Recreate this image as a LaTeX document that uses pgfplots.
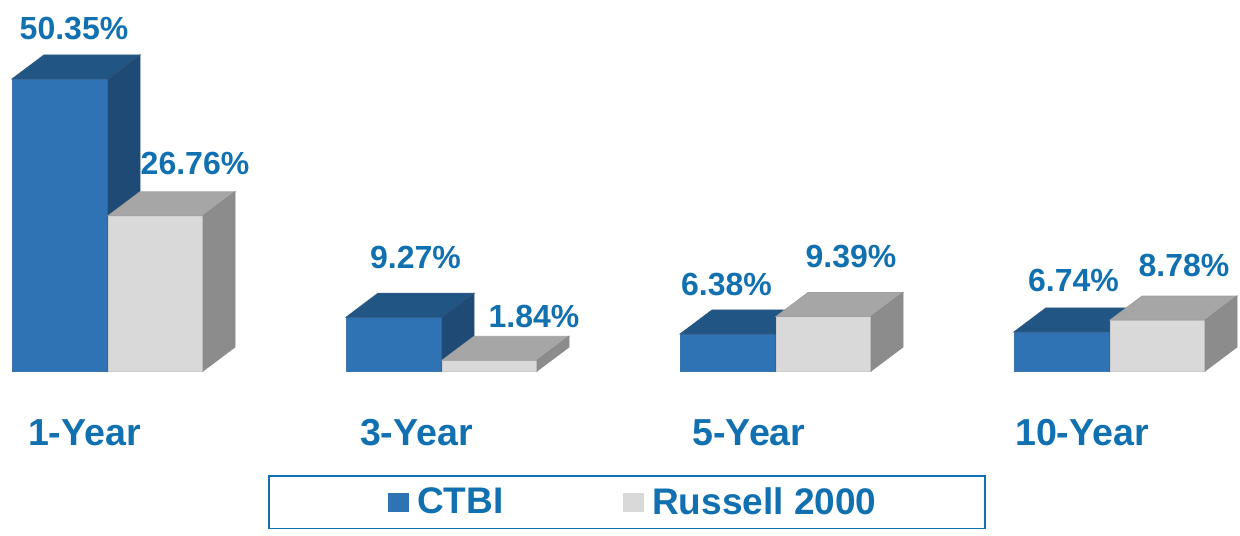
\documentclass[border=0pt]{standalone}
\usepackage{fontspec}
\setmainfont{Liberation Sans}
\usepackage{pgfplots}
\pgfplotsset{compat=1.18}

\definecolor{labelblue}{HTML}{1170B0}
\definecolor{ctbifront}{HTML}{3073B5}
\definecolor{ctbitop}{HTML}{215583}
\definecolor{ctbiside}{HTML}{1E4A75}
\definecolor{russfront}{HTML}{D9D9D9}
\definecolor{russtop}{HTML}{A6A6A6}
\definecolor{russside}{HTML}{8C8C8C}

% one unit of x is one pixel of the reference, y is in percent (5.8 px per %)
\newcommand{\threedbar}[6]{%
  \pgfmathsetmacro\xa{#1+32}%
  \pgfmathsetmacro\xb{#2+32}%
  \pgfmathsetmacro\vb{#3+4.14}%
  \pgfmathsetmacro\zb{4.14}%
  \edef\tmp{%
    \noexpand\addplot[forget plot,fill=#4,draw=#4!85!gray,line width=0.4pt] coordinates {(#1,0) (#2,0) (#2,#3) (#1,#3)} --cycle;
    \noexpand\addplot[forget plot,fill=#5,draw=#5!85!gray,line width=0.4pt] coordinates {(#1,#3) (#2,#3) (\xb,\vb) (\xa,\vb)} --cycle;
    \noexpand\addplot[forget plot,fill=#6,draw=#6!85!gray,line width=0.4pt] coordinates {(#2,0) (\xb,\zb) (\xb,\vb) (#2,#3)} --cycle;
  }\tmp
}
\newcommand{\vallabel}[3]{\node[text=labelblue,font=\fontsize{16}{16}\selectfont\bfseries,anchor=center] at (axis cs:#1,#2) {#3};}

\begin{document}
\begin{tikzpicture}
\begin{axis}[
    scale only axis,
    width=620pt,
    height=185.5pt,
    at={(0,0)},
    xmin=0, xmax=1240,
    ymin=0, ymax=63.97,
    clip=false,
    axis line style={draw=none},
    tick style={draw=none},
    ytick=\empty,
    xtick={84.5,416.5,749,1082},
    xticklabels={1-Year,3-Year,5-Year,10-Year},
    x tick label style={text=labelblue,font=\fontsize{18.8}{18.8}\selectfont\bfseries,anchor=base,yshift=-37pt},
    legend columns=2,
    legend style={
        at={(axis cs:627,-27.3)},
        anchor=south,
        draw=labelblue,
        line width=0.8pt,
        fill=white,
        inner xsep=52.25pt,
        inner ysep=3.75pt,
        font=\fontsize{18.5}{18.5}\selectfont\bfseries,
        text=labelblue,
        /tikz/every even column/.append style={column sep=50.5pt},
    },
    legend image code/.code={%
        \path (-7pt,0pt) (12pt,0pt);
        \fill[#1,draw=none] (0pt,-5pt) rectangle (10.5pt,4.5pt);},
]
% bounding box of the whole reference
\path (axis cs:0,-28.28) (axis cs:1240,63.97);

\threedbar{12}{108}{50.35}{ctbifront}{ctbitop}{ctbiside}
\threedbar{108}{203}{26.76}{russfront}{russtop}{russside}
\threedbar{346}{442}{9.27}{ctbifront}{ctbitop}{ctbiside}
\threedbar{442}{537}{1.84}{russfront}{russtop}{russside}
\threedbar{680}{776}{6.38}{ctbifront}{ctbitop}{ctbiside}
\threedbar{776}{871}{9.39}{russfront}{russtop}{russside}
\threedbar{1014}{1110}{6.74}{ctbifront}{ctbitop}{ctbiside}
\threedbar{1110}{1205}{8.78}{russfront}{russtop}{russside}

\addlegendimage{fill=ctbifront}
\addlegendentry{CTBI}
\addlegendimage{fill=russfront}
\addlegendentry{Russell 2000}

\vallabel{74}{59.14}{50.35\%}
\vallabel{195}{35.86}{26.76\%}
\vallabel{415.5}{19.66}{9.27\%}
\vallabel{534}{9.48}{1.84\%}
\vallabel{726.5}{15.0}{6.38\%}
\vallabel{851}{19.66}{9.39\%}
\vallabel{1073.5}{15.69}{6.74\%}
\vallabel{1184}{18.28}{8.78\%}
\end{axis}
\end{tikzpicture}
\end{document}
